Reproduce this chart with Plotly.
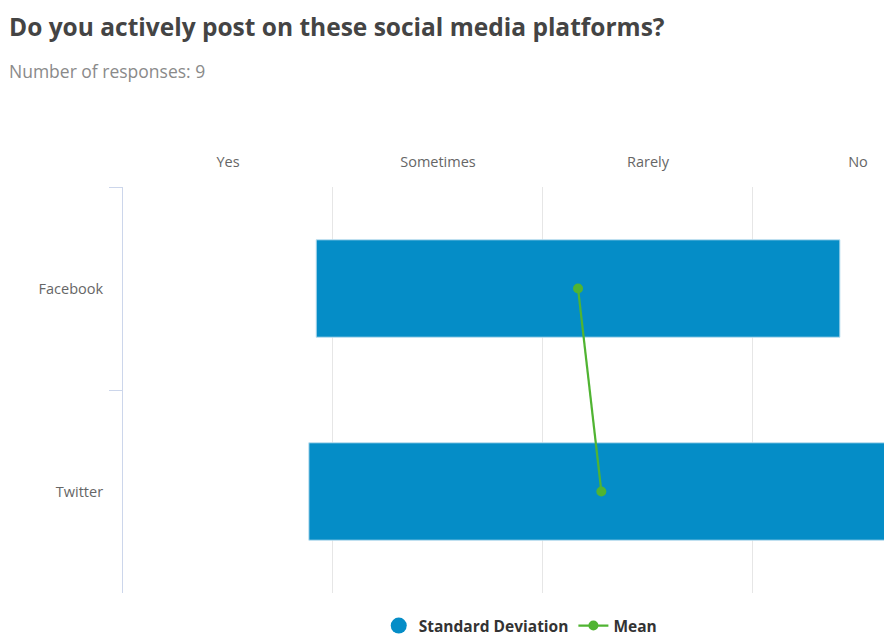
import plotly.graph_objects as go

platforms = ["Facebook", "Twitter"]
means = [2.667, 2.778]
std_devs = [1.247, 1.393]
scale_vals = [1, 2, 3, 4]
scale_labels = ["Yes", "Sometimes", "Rarely", "No"]
n_responses = 9

BLUE = "#058DC7"
GREEN = "#50B432"
FONT = "Open Sans"

lows = [m - s for m, s in zip(means, std_devs)]
widths = [2 * s for s in std_devs]

fig = go.Figure()
fig.add_trace(go.Bar(
    y=platforms, x=widths, base=lows, orientation="h",
    marker=dict(color=BLUE, line=dict(color="#bfe0f0", width=1)),
    width=0.48, showlegend=False, name="Standard Deviation",
))
fig.add_trace(go.Scatter(
    x=[None], y=[None], mode="markers", name="Standard Deviation",
    marker=dict(color=BLUE, size=16, symbol="circle"),
))
fig.add_trace(go.Scatter(
    x=means, y=platforms, mode="lines+markers", name="Mean",
    line=dict(color=GREEN, width=2.2), marker=dict(color=GREEN, size=10),
))
# gridline overlay axis
fig.add_trace(go.Scatter(x=[None], y=[None], xaxis="x2", showlegend=False))

xr = [0.5, 4.124]
H = 637
fig.update_layout(
    width=884, height=H,
    margin=dict(l=123, r=0, t=187, b=44, autoexpand=False),
    paper_bgcolor="white", plot_bgcolor="white",
    font=dict(family=FONT, color="#666666", size=14),
    xaxis=dict(
        range=xr, side="top", tickvals=scale_vals, ticktext=scale_labels,
        showgrid=False, zeroline=False, showline=False, ticks="",
        ticklabelstandoff=16, tickfont=dict(size=14.5, color="#666666"),
    ),
    xaxis2=dict(
        range=xr, overlaying="x", tickvals=[1.5, 2.5, 3.5], showgrid=True,
        gridcolor="#e6e6e6", gridwidth=1, showticklabels=False, zeroline=False,
        showline=False, ticks="",
    ),
    yaxis=dict(
        type="category", range=[1.5, -0.5], showline=True, linecolor="#ccd6eb",
        linewidth=1, ticks="outside", tickson="boundaries", ticklen=13,
        tickcolor="#ccd6eb", showgrid=False, zeroline=False,
        ticklabelstandoff=16, tickfont=dict(size=14.5, color="#666666"),
    ),
    legend=dict(
        orientation="h", x=0.522, xanchor="center",
        yref="container", y=(H - 626) / H, yanchor="middle",
        font=dict(size=15.5, color="#333333", family=FONT, weight="bold"),
        itemwidth=30, traceorder="normal",
    ),
    annotations=[
        dict(text="<b>Do you actively post on these social media platforms?</b>",
             xref="paper", yref="paper", x=(7 - 123) / 761, y=1 + (187 - 26) / 406,
             xanchor="left", yanchor="middle", showarrow=False,
             font=dict(size=24.5, color="#444444", family=FONT)),
        dict(text=f"Number of responses: {n_responses}",
             xref="paper", yref="paper", x=(7 - 123) / 761, y=1 + (187 - 71) / 406,
             xanchor="left", yanchor="middle", showarrow=False,
             font=dict(size=17.5, color="#8a8a8a", family=FONT)),
    ],
)
fig.update_xaxes(layer="below traces")
fig.write_html("out.html")
